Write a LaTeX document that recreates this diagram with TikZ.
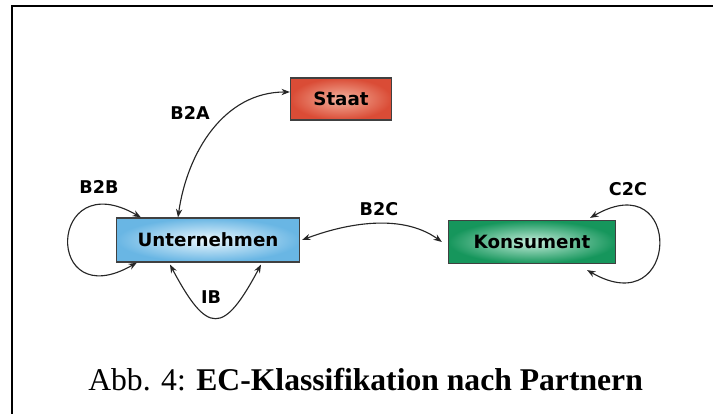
\documentclass[tikz,border=0pt]{standalone}
\usepackage{fontspec}
\setmainfont{Liberation Serif}
\newfontfamily\partnerfont{DejaVu Sans}
\usepackage{tikz}
\usepackage{xcolor}
\usetikzlibrary{arrows.meta}

\definecolor{staatrot}{RGB}{218,76,54}
\definecolor{staathell}{RGB}{244,178,158}
\definecolor{untblau}{RGB}{105,182,228}
\definecolor{unthell}{RGB}{236,247,253}
\definecolor{konsgruen}{RGB}{22,150,92}
\definecolor{konshell}{RGB}{196,236,218}

\begin{document}
\begin{tikzpicture}[x=0.025cm,y=-0.025cm,>={Stealth[length=6pt,width=4.5pt]},
    partner/.style={draw=black!75,thick,font=\partnerfont\bfseries\fontsize{13}{15}\selectfont,inner sep=0pt},
    relation/.style={font=\partnerfont\bfseries\fontsize{12.5}{14}\selectfont,inner sep=1pt},
    link/.style={<->,black!85,thick}]
                    \useasboundingbox (0,0) rectangle (713,414);
                    \draw[black,line width=1.5pt] (12,414) -- (12,6) -- (713,6);

                    \node[partner,inner color=staathell,outer color=staatrot,minimum width=2.525cm,minimum height=1.05cm] (sta) at (341,99) {Staat};
                    \node[partner,inner color=unthell,outer color=untblau,minimum width=4.575cm,minimum height=1.1cm] (unt) at (208,240) {Unternehmen};
                    \node[partner,inner color=konshell,outer color=konsgruen,minimum width=4.175cm,minimum height=1.075cm] (kon) at (532,242) {Konsument};

                    \node[relation] (b2a) at (190,113) {B2A};
                    \node[relation] (b2b) at (99,187) {B2B};
                    \node[relation] (b2c) at (379,209) {B2C};
                    \node[relation] (c2c) at (628,189) {C2C};
                    \node[relation] (ib) at (211,297) {IB};

                    \draw[link] ([xshift=-0.75cm]unt.north) to[out=82,in=180] ([yshift=0.175cm]sta.west);
                    \draw[link] ([xshift=0.625cm]unt.north west) .. controls +(150:2.7cm) and +(210:2.7cm) .. ([xshift=0.525cm]unt.south west);
                    \draw[link] ([xshift=-0.95cm,yshift=-0.05cm]unt.south) .. controls +(-62:2.0cm) and +(242:2.0cm) .. ([xshift=1.325cm,yshift=-0.05cm]unt.south);
                    \draw[link] ([xshift=0.05cm]unt.east) .. controls +(0.925cm,0.35cm) and +(-1.075cm,0.775cm) .. ([xshift=-0.15cm]kon.west);
                    \draw[link] ([xshift=-0.65cm,yshift=0.05cm]kon.north east) .. controls +(30:2.7cm) and +(330:2.7cm) .. ([xshift=-0.725cm,yshift=-0.15cm]kon.south east);

                    \node[font=\fontsize{22.5}{26}\selectfont,anchor=base west,inner sep=0pt] (cap) at (88,390) {Abb. 4: \textbf{EC-Klassifikation nach Partnern}};
                \end{tikzpicture}
\end{document}
